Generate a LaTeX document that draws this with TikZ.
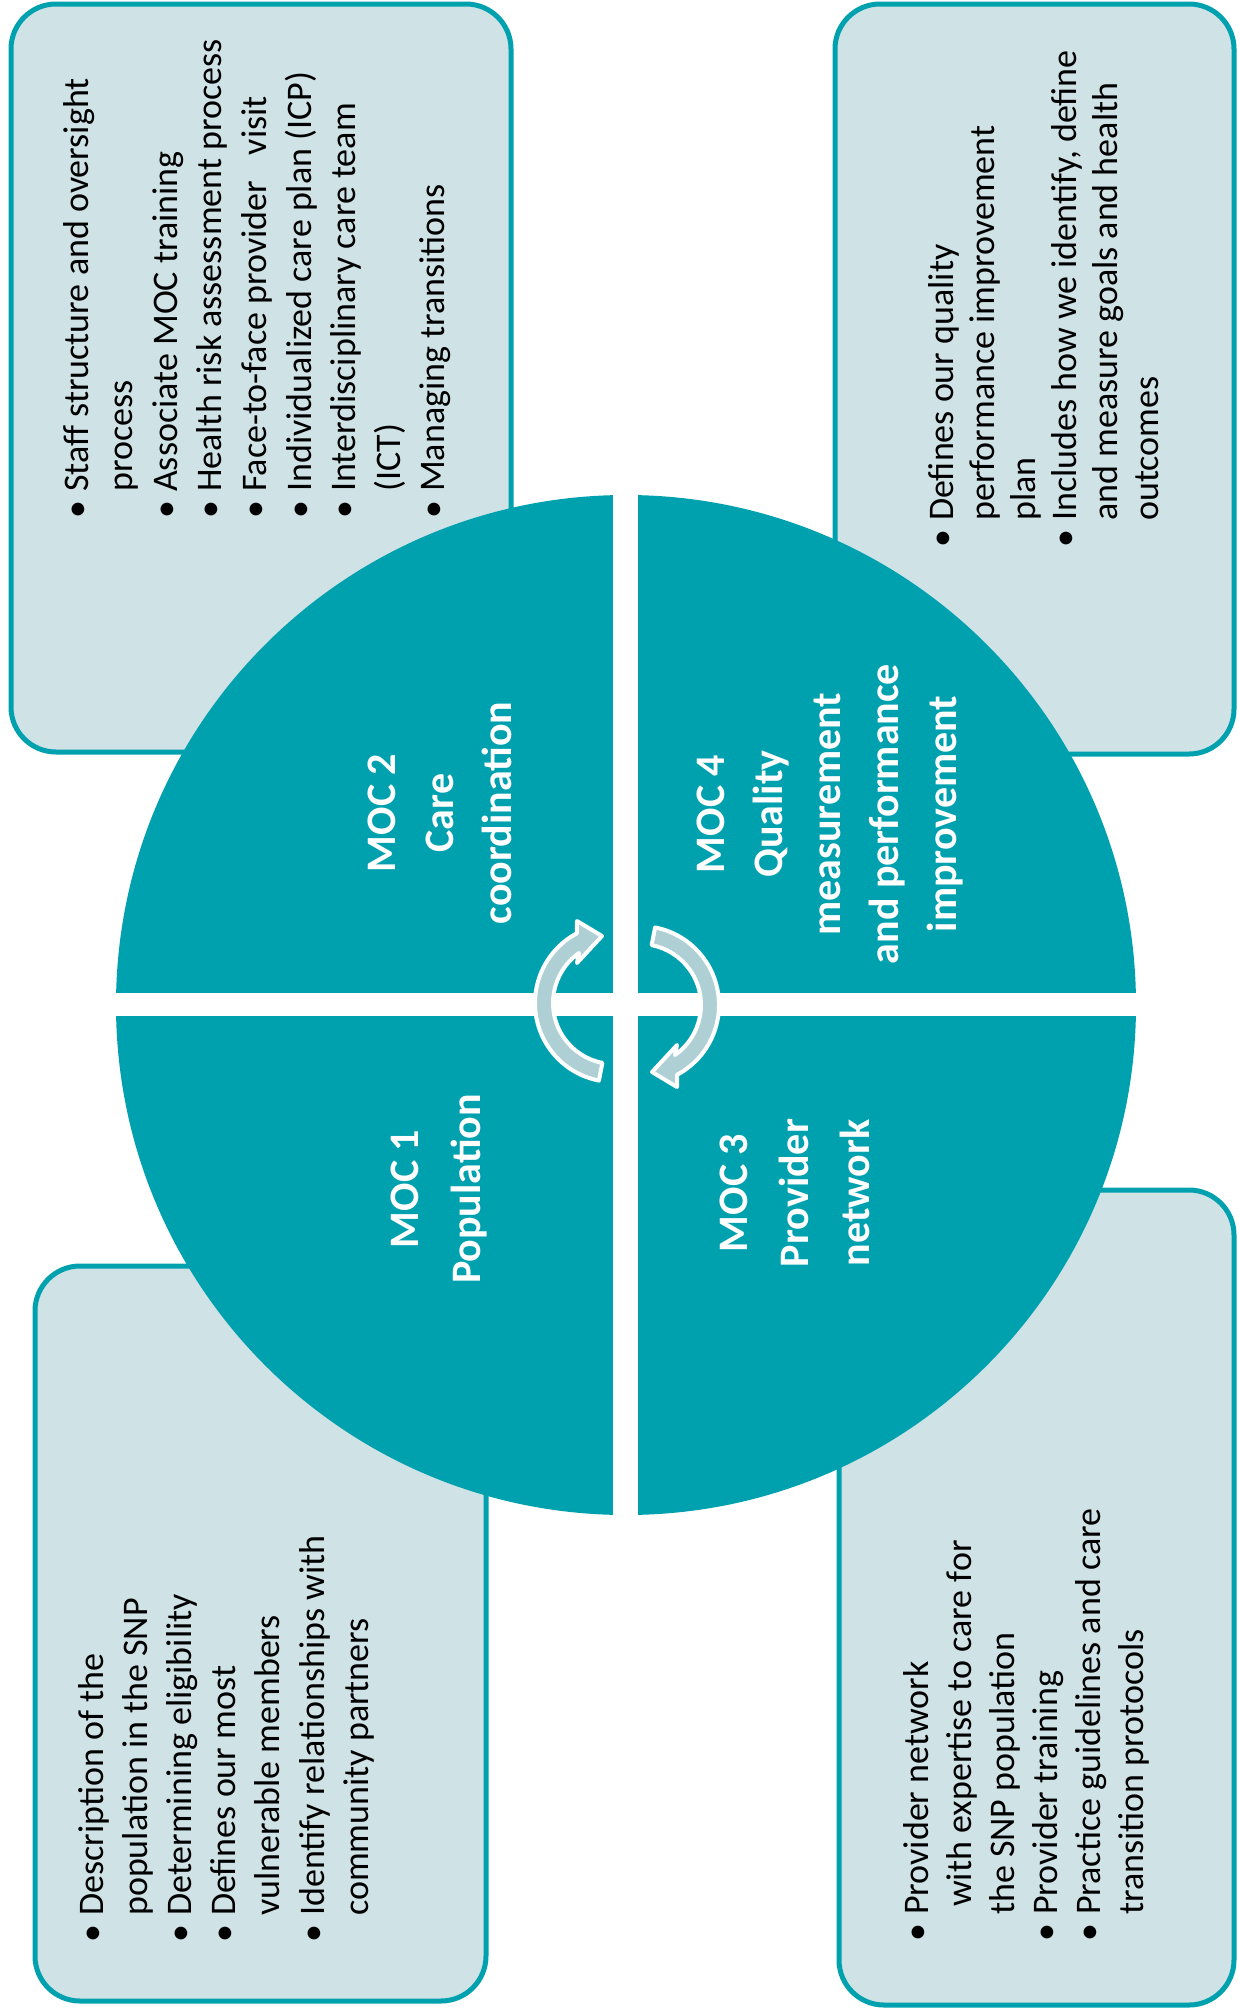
\documentclass[tikz,border=0pt]{standalone}
\usepackage{fontspec}
\setmainfont{Carlito}
\definecolor{mocteal}{RGB}{0,161,175}
\definecolor{boxfill}{RGB}{207,226,229}
\definecolor{arrowfill}{RGB}{174,207,211}
\newcommand\mocbul{\llap{\makebox[36pt][c]{•}}}
\begin{document}
\begin{tikzpicture}[x=1pt,y=1pt,
  infobox/.style={fill=boxfill,draw=mocteal,line width=5pt,rounded corners=45pt},
  cyclearrow/.style={fill=arrowfill,draw=white,line width=4pt,line join=round},
  boxtext/.style={rotate=90,anchor=base west,inner sep=0pt,text=black},
  qtext/.style={rotate=90,anchor=base,inner sep=0pt,text=white}]
\useasboundingbox (0,0) rectangle (1239,-2014);
% information boxes
\draw[infobox] (11,-4) rectangle (511,-752);
\draw[infobox] (835,-4) rectangle (1234,-754);
\draw[infobox] (35,-1266) rectangle (486,-2001);
\draw[infobox] (839,-1190) rectangle (1234,-2005);
% central disc split into quadrants
\fill[mocteal] (626,-1005) circle[radius=510];
\fill[white] (613,-480) rectangle (638,-1530);
\fill[white] (100,-993) rectangle (1150,-1016);
% cycle arrows
\path[cyclearrow] ([shift={(614,-1003)}]259:79) arc[start angle=259,end angle=118,radius=79]
  -- (577,-921) -- (602,-936) -- (577,-963)
  -- ([shift={(614,-1003)}]125:61) arc[start angle=125,end angle=259,radius=61] -- cycle;
\begin{scope}[rotate around={180:(627,-1004)}]
\path[cyclearrow] ([shift={(614,-1003)}]259:79) arc[start angle=259,end angle=118,radius=79]
  -- (577,-921) -- (602,-936) -- (577,-963)
  -- ([shift={(614,-1003)}]125:61) arc[start angle=125,end angle=259,radius=61] -- cycle;
\end{scope}
% quadrant titles
\node[qtext,font=\bfseries\fontsize{42}{58}\selectfont] (moc2) at (395,-813)
  {\begin{tabular}[t]{@{}c@{}}MOC 2\\Care\\coordination\end{tabular}};
\node[qtext,font=\bfseries\fontsize{42}{58}\selectfont] (moc4) at (724,-814)
  {\begin{tabular}[t]{@{}c@{}}MOC 4\\Quality\\measurement\\and performance\\improvement\end{tabular}};
\node[qtext,font=\bfseries\fontsize{42}{62}\selectfont] (moc1) at (418,-1189)
  {\begin{tabular}[t]{@{}c@{}}MOC 1\\Population\end{tabular}};
\node[qtext,font=\bfseries\fontsize{42}{61}\selectfont] (moc3) at (747,-1193)
  {\begin{tabular}[t]{@{}c@{}}MOC 3\\Provider\\network\end{tabular}};
% box texts
\node[boxtext,font=\fontsize{36}{44.6}\selectfont] (t2) at (88,-492)
  {\begin{tabular}[t]{@{}l@{}}
  \mocbul Staff structure and oversight\\
  process\\
  \mocbul Associate MOC training\\
  \mocbul Health risk assessment process\\
  \mocbul Face-to-face provider\hspace{26pt}visit\\
  \mocbul Individualized care plan (ICP)\\
  \mocbul Interdisciplinary care team\\
  (ICT)\\
  \mocbul Managing transitions
  \end{tabular}};
\node[boxtext,font=\fontsize{36}{41}\selectfont] (t4) at (953,-521)
  {\begin{tabular}[t]{@{}l@{}}
  \mocbul Defines our quality\\
  performance improvement\\
  plan\\
  \mocbul Includes how we identify, define\\
  and measure goals and health\\
  outcomes
  \end{tabular}};
\node[boxtext,font=\fontsize{36}{44.2}\selectfont] (t1) at (103,-1916)
  {\begin{tabular}[t]{@{}l@{}}
  \mocbul Description of the\\
  population in the SNP\\
  \mocbul Determining eligibility\\
  \mocbul Defines our most\\
  vulnerable members\\
  \mocbul Identify relationships with\\
  community partners
  \end{tabular}};
\node[boxtext,font=\fontsize{36}{43}\selectfont] (t3) at (928,-1915)
  {\begin{tabular}[t]{@{}l@{}}
  \mocbul Provider network\\
  \hspace{8pt}with expertise to care for\\
  the SNP population\\
  \mocbul Provider training\\
  \mocbul Practice guidelines and care\\
  transition protocols
  \end{tabular}};
\end{tikzpicture}
\end{document}
